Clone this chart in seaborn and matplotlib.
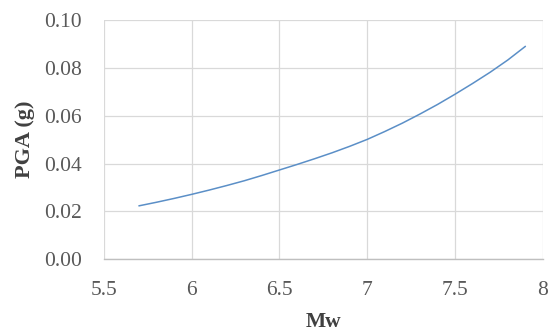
import matplotlib
matplotlib.use("Agg")
import matplotlib.pyplot as plt
import seaborn as sns
import pandas as pd

# Moment magnitude and predicted peak ground acceleration
mw = [5.7, 5.8, 5.9, 6.0, 6.1, 6.2, 6.3, 6.4, 6.5, 6.6, 6.7, 6.8,
      6.9, 7.0, 7.1, 7.2, 7.3, 7.4, 7.5, 7.6, 7.7, 7.8, 7.9]
pga = [0.0223, 0.0238, 0.0254, 0.0271, 0.0289, 0.0308, 0.0328, 0.0350,
       0.0373, 0.0396, 0.0420, 0.0445, 0.0472, 0.0501, 0.0534, 0.0569,
       0.0607, 0.0647, 0.0690, 0.0735, 0.0782, 0.0833, 0.0890]
x_ticks = [5.5, 6, 6.5, 7, 7.5, 8]
x_tick_labels = ["5.5", "6", "6.5", "7", "7.5", "8"]
y_ticks = [0.00, 0.02, 0.04, 0.06, 0.08, 0.10]
y_tick_labels = ["0.00", "0.02", "0.04", "0.06", "0.08", "0.10"]

df = pd.DataFrame({"Mw": mw, "PGA": pga})

sns.set_theme(style="white")
plt.rcParams["font.family"] = ["Liberation Serif", "DejaVu Serif"]

fig = plt.figure(figsize=(5.49, 3.34), dpi=100)
ax = fig.add_axes([0.189, 0.224, 0.800, 0.716])

sns.lineplot(data=df, x="Mw", y="PGA", ax=ax, color="#5b8fc7", linewidth=1.1)

ax.set_xlim(5.5, 8)
ax.set_ylim(0, 0.10)
ax.set_xticks(x_ticks)
ax.set_xticklabels(x_tick_labels)
ax.set_yticks(y_ticks)
ax.set_yticklabels(y_tick_labels)

ax.grid(True, color="#d9d9d9", linewidth=0.9)
ax.set_axisbelow(True)
for side in ["top", "right", "left"]:
    ax.spines[side].set_visible(False)
ax.spines["bottom"].set_color("#bfbfbf")
ax.spines["bottom"].set_linewidth(1.0)

ax.tick_params(axis="both", length=0, labelsize=15.5, labelcolor="#595959")
ax.tick_params(axis="x", pad=15.5)
ax.tick_params(axis="y", pad=15.5)

ax.set_xlabel("Mw", fontsize=15.5, fontweight="bold", color="#404040", labelpad=9)
ax.set_ylabel("PGA (g)", fontsize=16, fontweight="bold", color="#404040", labelpad=7)

fig.savefig("out.png", dpi=100)
